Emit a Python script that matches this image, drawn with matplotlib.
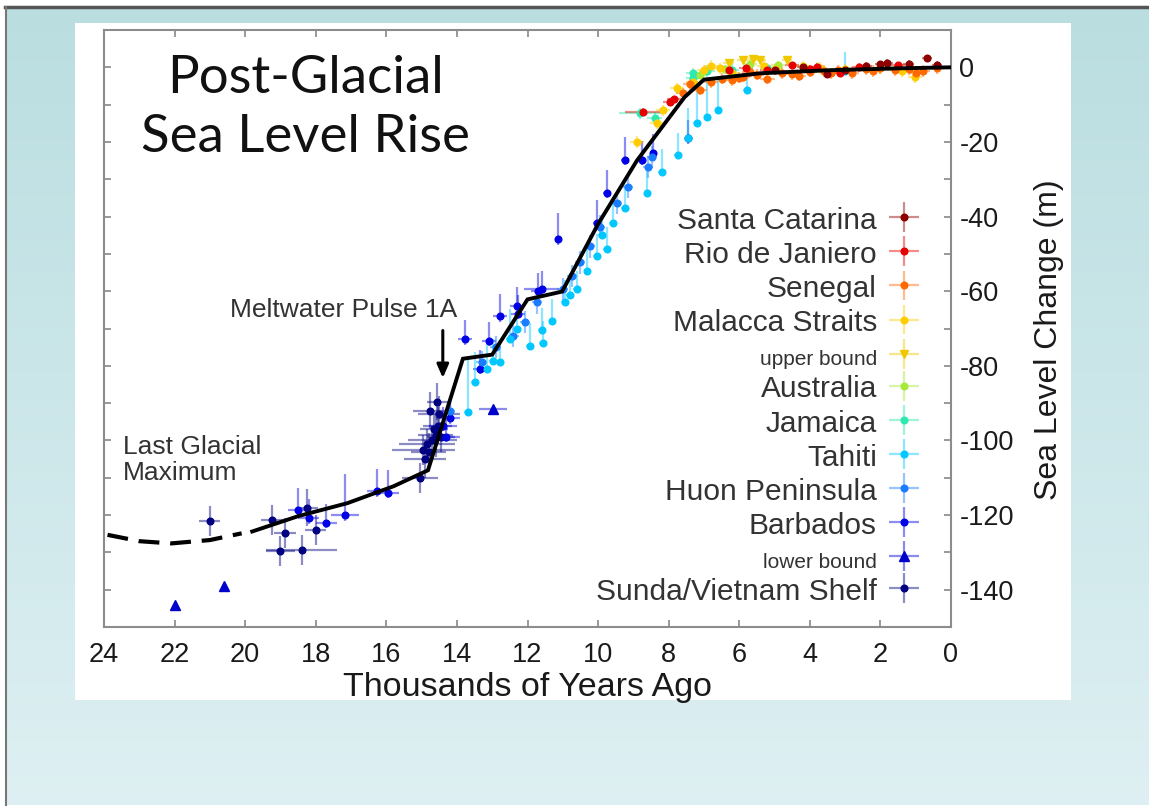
import numpy as np
import matplotlib.pyplot as plt
from matplotlib.patches import Rectangle
from matplotlib.ticker import MultipleLocator, FuncFormatter

plt.rcParams['font.family'] = ['Liberation Sans', 'DejaVu Sans']

# sea level reconstruction (thousands of years ago, metres)
curve_x = [19.8, 18.5, 17.1, 15.8, 14.82, 13.83, 13.0, 12.0, 11.02, 10.0, 8.9,
           7.55, 7.0, 5.4, 3.5, 1.6, 0.0]
curve_y = [-124.4, -120.3, -116.8, -112.3, -108.0, -78.1, -77.0, -62.2, -60.1,
           -42.0, -25.0, -8.0, -3.3, -1.6, -0.8, -0.3, 0.0]
lgm_x = [23.9, 23.0, 22.1, 21.0, 20.1]
lgm_y = [-125.3, -127.0, -127.6, -126.7, -124.9]

# site data: x, y, xerr, lower yerr, upper yerr
sc_x = [3.5, 3.0, 2.4, 2.0, 1.8, 1.2, 0.68, 0.4, 4.2, 5.0]
sc_y = [-1.8, -0.6, 0.4, 0.8, 1.2, 1.0, 2.4, 0.6, 0.0, -0.8]

rio_x = [8.73, 7.96, 7.85, 5.8, 4.5, 4.0, 3.14, 2.6, 1.5, 5.2, 6.3, 3.8]
rio_y = [-12.0, -9.3, -8.6, -0.3, 0.5, -0.5, -1.6, 0.2, 0.5, -0.8, -0.8, 0.1]
rio_xe = [0.5, 0.2, 0.2, 0.2, 0.2, 0.2, 0.2, 0.2, 0.2, 0.2, 0.2, 0.2]

sen_x = [7.6, 7.4, 7.1, 6.8, 6.5, 6.2, 5.9, 5.5, 5.2, 4.8, 4.5, 4.0, 3.6, 3.2,
         2.8, 2.4, 2.0, 1.6, 1.2, 0.8, 0.4, 6.0, 5.7, 4.3, 3.4, 2.2, 1.0]
sen_y = [-7.0, -4.5, -6.0, -4.0, -3.0, -3.5, -2.5, -2.0, -3.0, -1.5, -1.8, -1.2,
         -1.0, -0.8, -1.5, -0.5, -0.3, -0.8, -0.5, -1.0, -0.2, -2.8, -1.2, -2.2,
         -1.6, -1.0, -1.6]

mal_x = [8.9, 8.33, 8.16, 7.76, 7.3, 6.55, 6.2, 5.0, 4.2, 3.0, 2.0, 1.4, 1.02,
         7.0, 6.8, 5.3, 3.7]
mal_y = [-20.0, -15.0, -11.5, -5.6, -4.0, -0.3, -1.5, -0.5, 0.3, -0.5, -0.2,
         -1.0, -2.7, -0.8, 0.4, 0.4, -0.2]

ub_x = [6.3, 5.9, 5.6, 5.4, 4.65]
ub_y = [1.2, 1.9, 2.2, 1.9, 1.9]

aus_x = [7.1, 6.4, 5.7, 4.9, 3.8]
aus_y = [-2.0, -0.5, 0.8, 0.6, 0.2]

jam_x = [8.8, 8.4, 7.3, 7.3, 6.9, 6.2, 5.2]
jam_y = [-12.3, -13.5, -2.9, -1.6, -1.0, -0.6, -0.3]
jam_xe = [0.6, 0.2, 0.2, 0.2, 0.2, 0.2, 0.2]

tah_x = [13.7, 13.5, 13.15, 12.98, 12.78, 12.5, 12.3, 11.93, 11.6, 11.56, 11.3,
         10.94, 10.8, 10.6, 10.3, 10.03, 9.9, 9.75, 9.58, 9.24, 8.6, 8.2, 7.74,
         7.45, 7.2, 6.9, 6.6, 5.78, 3.0]
tah_y = [-92.3, -84.3, -80.8, -78.7, -79.0, -72.8, -70.0, -74.6, -70.5, -74.0,
         -68.0, -63.0, -61.0, -59.5, -54.6, -50.6, -45.0, -48.8, -41.6, -37.6,
         -33.6, -28.0, -23.5, -19.0, -15.0, -13.3, -11.5, -6.1, -1.0]
tah_hi = [15, 8, 8, 6, 6, 8, 6, 6, 6, 6, 6, 6, 6, 5, 6, 6, 5, 6, 6, 6, 6, 6, 6,
          8, 10, 10, 9, 4, 5]

huon_x = [14.2, 13.3, 12.9, 12.4, 12.07, 11.73, 11.0, 10.74, 10.51, 10.23, 9.94,
          9.46, 9.15, 8.58, 8.47]
huon_y = [-92.0, -79.0, -75.0, -72.0, -68.3, -63.0, -59.5, -56.0, -52.3, -48.0,
          -42.7, -36.3, -32.0, -26.7, -24.0]

barb_x = [18.5, 18.2, 17.7, 17.17, 16.26, 15.95, 14.4, 14.3, 14.2, 13.77, 13.35,
          13.1, 12.78, 12.3, 12.27, 11.7, 11.6, 11.13, 10.03, 9.75, 9.24, 8.76,
          8.44, 7.45]
barb_y = [-118.7, -120.8, -122.0, -120.0, -113.6, -114.0, -96.0, -99.0, -94.0,
          -72.8, -80.8, -73.3, -66.7, -64.0, -66.0, -60.0, -59.5, -46.1, -41.6,
          -33.6, -24.8, -24.8, -23.0, -19.0]
barb_xe = [0.3, 0.3, 0.3, 0.4, 0.3, 0.3, 0.4, 0.4, 0.3, 0.2, 0.2, 0.2, 0.2, 0.2,
           0.2, 0.2, 0.5, 0.1, 0.1, 0.1, 0.1, 0.1, 0.1, 0.1]
barb_hi = [6, 5, 5, 11, 6, 6, 5, 5, 5, 5, 5, 5, 6, 5, 5, 5, 5, 7, 6, 6, 6, 5, 5, 5]

lb_x = [22.0, 20.6, 12.98]
lb_y = [-144.0, -139.0, -91.7]
lb_xe = [0.0, 0.0, 0.4]

sun_x = [21.0, 19.24, 19.0, 18.87, 18.4, 18.25, 18.0, 15.05, 14.9, 14.8, 14.7,
         14.6, 14.55, 14.5, 14.85, 14.65, 14.75, 14.56, 14.45, 14.95]
sun_y = [-121.6, -121.3, -129.6, -124.8, -129.3, -118.0, -124.0, -110.0, -105.0,
         -103.0, -100.0, -98.5, -96.0, -93.0, -101.0, -97.0, -92.0, -89.6, -99.0,
         -102.5]
sun_xe = [0.3, 0.3, 0.4, 0.3, 1.0, 0.3, 0.3, 0.5, 0.6, 0.5, 0.7, 0.5, 0.4, 0.6,
          0.8, 0.4, 0.5, 0.3, 0.4, 0.9]
sun_ye = [4, 4, 4, 4, 4, 5, 4, 4, 5, 5, 4, 6, 5, 5, 4, 4, 5, 5, 4, 4]

labels = ['Santa Catarina', 'Rio de Janiero', 'Senegal', 'Malacca Straits',
          'upper bound', 'Australia', 'Jamaica', 'Tahiti', 'Huon Peninsula',
          'Barbados', 'lower bound', 'Sunda/Vietnam Shelf']

fig = plt.figure(figsize=(11.49, 8.09), dpi=100)

# slide background
bg = fig.add_axes([0, 0, 1, 1])
grad = np.linspace(0, 1, 256)[:, None]
cols = np.array([0.73, 0.87, 0.88]) * (1 - grad[..., None]) + np.array([0.87, 0.94, 0.95]) * grad[..., None]
bg.imshow(cols, extent=[5 / 1149, 1, 4 / 809, 1 - 8 / 809], aspect='auto', zorder=0)
bg.add_patch(Rectangle((75 / 1149, 1 - 700 / 809), 996 / 1149, 677 / 809,
                       facecolor='white', edgecolor='none', zorder=1))
bg.plot([5 / 1149, 1], [1 - 7 / 809] * 2, color='#555555', lw=2.5, zorder=2)
bg.plot([6 / 1149] * 2, [4 / 809, 1 - 7 / 809], color='#777777', lw=1.5, zorder=2)
bg.set_xlim(0, 1)
bg.set_ylim(0, 1)
bg.axis('off')

ax = fig.add_axes([104 / 1149, 1 - 627 / 809, 847 / 1149, 597 / 809])


def site(x, y, xe, ylo, yhi, color, marker, label, ms=4.8, z=3):
    cont = ax.errorbar(x, y, xerr=xe, yerr=[ylo, yhi], fmt=marker, color=color,
                       ms=ms, elinewidth=1.6, capsize=0, label=label, zorder=z)
    for lc in cont[2]:
        lc.set_alpha(0.45)
    return cont


n = len
handles = {}
handles['Sunda/Vietnam Shelf'] = site(sun_x, sun_y, sun_xe, sun_ye, sun_ye, '#000080', 'o', labels[11])
handles['Barbados'] = site(barb_x, barb_y, barb_xe, [1.5] * n(barb_x), barb_hi, '#0000e6', 'o', labels[9])
handles['lower bound'] = site(lb_x, lb_y, lb_xe, [0] * 3, [0] * 3, '#0000cc', '^', labels[10], ms=7)
handles['Huon Peninsula'] = site(huon_x, huon_y, [0.15] * n(huon_x), [3] * n(huon_x), [3] * n(huon_x), '#1a7cff', 'o', labels[8])
handles['Tahiti'] = site(tah_x, tah_y, [0.1] * n(tah_x), [1] * n(tah_x), tah_hi, '#00c8ff', 'o', labels[7])
handles['Jamaica'] = site(jam_x, jam_y, jam_xe, [1.5] * n(jam_x), [1.5] * n(jam_x), '#2ee8b0', 'o', labels[6])
handles['Australia'] = site(aus_x, aus_y, [0.2] * n(aus_x), [1.2] * n(aus_x), [1.2] * n(aus_x), '#a8e83a', 'o', labels[5])
handles['upper bound'] = site(ub_x, ub_y, [0.15] * n(ub_x), [0] * n(ub_x), [0] * n(ub_x), '#f0c800', 'v', labels[4], ms=6)
handles['Malacca Straits'] = site(mal_x, mal_y, [0.2] * n(mal_x), [1.5] * n(mal_x), [1.5] * n(mal_x), '#ffcc00', 'o', labels[3])
handles['Senegal'] = site(sen_x, sen_y, [0.2] * n(sen_x), [1.5] * n(sen_x), [1.5] * n(sen_x), '#ff6a00', 'o', labels[2])
handles['Rio de Janiero'] = site(rio_x, rio_y, rio_xe, [1] * n(rio_x), [1] * n(rio_x), '#e60000', 'o', labels[1])
handles['Santa Catarina'] = site(sc_x, sc_y, [0.15] * n(sc_x), [1] * n(sc_x), [1] * n(sc_x), '#8c0000', 'o', labels[0])

ax.plot(curve_x, curve_y, color='black', lw=2.8, zorder=6, solid_joinstyle='miter')
ax.plot(lgm_x, lgm_y, color='black', lw=3.0, ls=(0, (5, 2.6)), zorder=6)

ax.set_xlim(24, 0)
ax.set_ylim(-150, 10)
ax.xaxis.set_major_locator(MultipleLocator(2))
ax.yaxis.set_major_locator(MultipleLocator(20))
ax.yaxis.set_minor_locator(MultipleLocator(10))
ax.yaxis.set_major_formatter(FuncFormatter(lambda v, p: '%d' % v if v <= 0 else ''))
ax.tick_params(which='both', direction='in', length=5, width=1.2, color='#888888',
               top=True, bottom=True, left=True, right=True,
               labelleft=False, labelright=True, labelsize=19.5, labelcolor='#1a1a1a')
ax.tick_params(axis='x', pad=11)
ax.tick_params(axis='y', pad=6)
for sp in ax.spines.values():
    sp.set_color('#8c8c8c')
    sp.set_linewidth(1.5)

ax.set_xlabel('Thousands of Years Ago', fontsize=24.5, color='#1a1a1a', labelpad=3)
ax.yaxis.set_label_position('right')
ax.set_ylabel('Sea Level Change (m)', fontsize=23, color='#1a1a1a')
ax.yaxis.set_label_coords(1.098, 0.482)

ax.text(18.3, 3.4, 'Post-Glacial\nSea Level Rise', fontsize=38, family=['Lato', 'DejaVu Sans'],
        ha='center', va='top', linespacing=1.32, color='#111111')
ax.text(23.46, -98.6, 'Last Glacial\nMaximum', fontsize=19, ha='left', va='top',
        linespacing=1.12, color='#333333')
ax.text(14.0, -66.9, 'Meltwater Pulse 1A', fontsize=19, ha='right', va='baseline',
        color='#333333')
ax.annotate('', xy=(14.4, -84.0), xytext=(14.4, -69.8),
            arrowprops=dict(arrowstyle='-|>,head_width=0.35,head_length=0.8',
                            lw=2.2, color='black'), zorder=7)

leg = ax.legend([handles[k] for k in labels], labels, loc='upper right',
                bbox_to_anchor=(0.969, 0.706), frameon=False, markerfirst=False,
                fontsize=21.5, handlelength=1.4, handletextpad=0.2,
                handleheight=1.0, labelspacing=0.15, borderpad=0, borderaxespad=0)
for t in leg.get_texts():
    t.set_color('#333333')
    if t.get_text() in ('upper bound', 'lower bound'):
        t.set_fontsize(15)

fig.savefig('out.png', dpi=100)
